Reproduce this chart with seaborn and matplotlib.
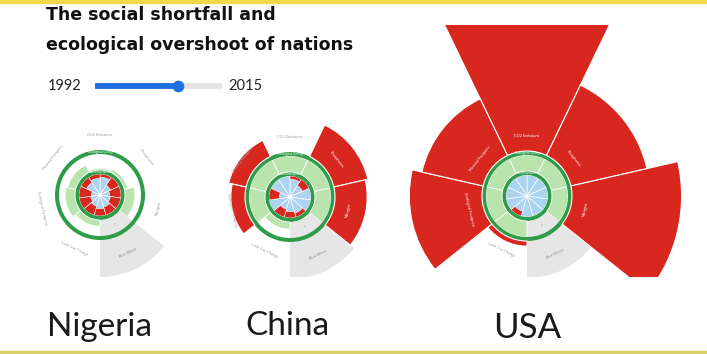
import numpy as np
import matplotlib
matplotlib.use("Agg")
import matplotlib.pyplot as plt
from matplotlib.patches import Rectangle
import seaborn as sns

# ---------------- data ----------------
countries = ["Nigeria", "China", "USA"]
eco_labels = ["CO2 Emissions", "Phosphorus", "Nitrogen", "Blue Water",
              "Land-Use Change", "Ecological Footprint", "Material Footprint"]
# biophysical use relative to the planetary boundary (1 = ecological ceiling); None = no data
eco_nigeria = [0.10, 0.20, 0.55, None, 0.35, 0.55, 0.45]
eco_china = [0.95, 3.05, 2.90, None, 0.40, 1.90, 2.10]
eco_usa = [9.20, 5.45, 7.20, None, 1.40, 5.15, 4.60]

social_labels = ["Life Satisfaction", "Healthy Life Expectancy", "Nutrition", "Sanitation",
                 "Income Poverty", "Access to Energy", "Secondary Education",
                 "Social Support", "Democratic Quality", "Equality", "Employment"]
# share of the social threshold achieved (1 = social foundation met)
soc_nigeria = [0.85, 0.55, 0.45, 0.50, 0.60, 0.65, 0.55, 0.45, 0.40, 0.70, 0.80]
soc_china = [0.85, 0.65, 1.00, 1.00, 0.80, 0.70, 0.60, 1.00, 0.50, 1.00, 1.00]
soc_usa = [1.00, 1.00, 1.00, 1.00, 1.00, 1.00, 0.75, 1.00, 1.00, 1.00, 1.00]

year_min, year_max, year_sel = 1992, 2015, 2007
title_lines = ["The social shortfall and", "ecological overshoot of nations"]

# ---------------- style ----------------
sns.set_theme(style="white")
plt.rcParams["font.family"] = ["Lato", "DejaVu Sans"]

RED = "#d8271f"
BLUE = "#acd3ef"
DKGREEN = "#2e9c48"
LTGREEN = "#b9e4ae"
GRAY = "#e6e6e6"
LABEL_GRAY = "#a0a0a0"

# radial geometry (pixels)
R_SOC = 21.0
R_IN0, R_IN1 = 21.0, 25.0
R_OUT0, R_OUT1 = 41.0, 45.0
R_UNIT = 18.0
R_NODATA = 82.0
R_MAX = 200.0

W, H = 707, 354
fig = plt.figure(figsize=(W / 100, H / 100), dpi=100)
fig.patch.set_facecolor("white")

centers = {"Nigeria": (100, 195), "China": (290, 197), "USA": (527, 196)}
eco_data = {"Nigeria": eco_nigeria, "China": eco_china, "USA": eco_usa}
soc_data = {"Nigeria": soc_nigeria, "China": soc_china, "USA": soc_usa}

clip_rect = Rectangle((0, (H - 277) / H), 1, (277 - 25) / H, transform=fig.transFigure)


def eco_radius(v):
    return R_IN1 + R_UNIT * v


def tangential(deg):
    d = deg % 360
    return -d + 180 if 90 < d < 270 else -d


def draw_country(name):
    cx, cy = centers[name]
    ax = fig.add_axes([(cx - R_MAX) / W, (H - cy - R_MAX) / H, 2 * R_MAX / W, 2 * R_MAX / H],
                      projection="polar")
    ax.set_theta_zero_location("N")
    ax.set_theta_direction(-1)
    ax.set_ylim(0, R_MAX)
    ax.set_axis_off()
    ax.patch.set_alpha(0)

    eco = eco_data[name]
    soc = soc_data[name]
    n_e = len(eco_labels)
    w_e = 2 * np.pi / n_e
    th_e = np.arange(n_e) * w_e
    n_s = len(social_labels)
    w_s = 2 * np.pi / n_s
    th_s = np.arange(n_s) * w_s + w_s / 2

    bars = []
    # social foundation: achieved (blue) and shortfall (red)
    bars += list(ax.bar(th_s, [R_SOC] * n_s, width=w_s, bottom=0, color=BLUE,
                        edgecolor="white", linewidth=0.5))
    idx = [i for i, f in enumerate(soc) if f < 1]
    if idx:
        bars += list(ax.bar(th_s[idx], [R_SOC * (1 - soc[i]) for i in idx], width=w_s,
                            bottom=[R_SOC * soc[i] for i in idx], color=RED,
                            edgecolor="white", linewidth=0.4))
    # inner ring
    bars += list(ax.bar(0, R_IN1 - R_IN0, width=2 * np.pi, bottom=R_IN0, color=DKGREEN, linewidth=0))
    # safe space fill / no-data wedge
    for t, v in zip(th_e, eco):
        if v is None:
            bars += list(ax.bar(t, R_NODATA - R_IN1, width=w_e, bottom=R_IN1, color=GRAY, linewidth=0))
        else:
            top = min(eco_radius(v), R_OUT0)
            bars += list(ax.bar(t, top - R_IN1, width=w_e, bottom=R_IN1, color=LTGREEN,
                                edgecolor="white", linewidth=0.6))
    # ecological ceiling ring
    bars += list(ax.bar(0, R_OUT1 - R_OUT0, width=2 * np.pi, bottom=R_OUT0, color=DKGREEN, linewidth=0))
    # overshoot
    for t, v in zip(th_e, eco):
        if v is not None and eco_radius(v) > R_OUT1:
            bars += list(ax.bar(t, eco_radius(v) - R_OUT1, width=w_e, bottom=R_OUT1, color=RED,
                                edgecolor="white", linewidth=0.8))
    for b in bars:
        b.set_clip_path(clip_rect)

    # labels
    for t, v, lab in zip(th_e, eco, eco_labels):
        deg = np.degrees(t)
        r = 64 if v is None else 60
        col = "white" if (v is not None and eco_radius(v) > r + 3) else LABEL_GRAY
        if v is None:
            col = "#8a8a8a"
            ax.text(t, 33, "?", ha="center", va="center", fontsize=3, color="#8a8a8a")
        ax.text(t, r, lab, ha="center", va="center", fontsize=2.8, color=col,
                rotation=tangential(deg), rotation_mode="anchor")
    ax.text(0, 43, "Ecological Ceiling", ha="center", va="center", fontsize=2.3, color="white")
    ax.text(0, 23, "Social Foundation", ha="center", va="center", fontsize=1.8, color="white")


for c in countries:
    draw_country(c)

# overlay axes in pixel coordinates for text
ov = fig.add_axes([0, 0, 1, 1])
ov.set_xlim(0, W)
ov.set_ylim(H, 0)
ov.set_axis_off()
ov.patch.set_alpha(0)

for i, line in enumerate(title_lines):
    ov.text(46, 20 + 30 * i, line, fontsize=12.5, fontweight="bold", color="#111111",
            ha="left", va="baseline", family=["DejaVu Sans"])

ov.text(48, 86, str(year_min), fontsize=10.5, color="#222222", ha="left", va="center")
ov.text(228, 86, str(year_max), fontsize=10.5, color="#222222", ha="left", va="center")

# slider
sl = fig.add_axes([95 / W, (H - 92) / H, (222 - 95) / W, 12 / H])
sl.set_xlim(year_min, year_max)
sl.set_ylim(-1, 1)
sl.set_axis_off()
sl.patch.set_alpha(0)
sl.plot([year_min, year_max], [0, 0], color="#e3e3e3", lw=4.2, solid_capstyle="round")
sl.plot([year_min, year_sel], [0, 0], color="#1f6fe0", lw=4.2, solid_capstyle="round")
sl.scatter([year_sel], [0], s=55, color="#1f6fe0", zorder=3, clip_on=False)

name_pos = {"Nigeria": (99, 336, 24), "China": (287, 335, 24), "USA": (527, 338, 25)}
for c in countries:
    x, y, fs = name_pos[c]
    ov.text(x, y, c, fontsize=fs, color="#1a1a1a", ha="center", va="baseline")

# frame strips
fig.patches.append(Rectangle((0, 1 - 2.5 / H), 1, 2.5 / H, transform=fig.transFigure,
                             color="#f1d84c", zorder=10))
fig.patches.append(Rectangle((0, 0), 1, 3 / H, transform=fig.transFigure,
                             color="#d8cf6a", zorder=10))

fig.savefig("out.png", dpi=100, facecolor="white")
